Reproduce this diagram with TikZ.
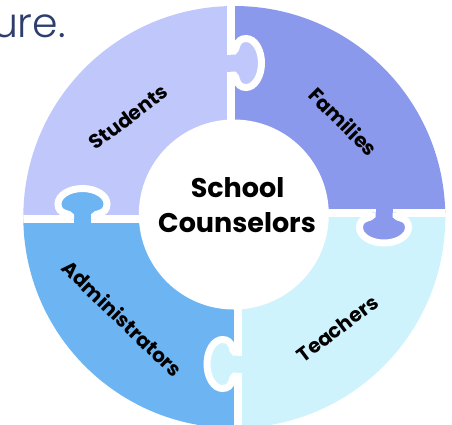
\documentclass[tikz,border=0pt]{standalone}
\usepackage{fontspec}
\setmainfont{Poppins}
\newfontfamily\lightfont{Poppins Light}
\definecolor{cstud}{HTML}{C0C8FB}
\definecolor{cfam}{HTML}{8A99EC}
\definecolor{cadm}{HTML}{6CB4F2}
\definecolor{cteach}{HTML}{CFF3FD}
\definecolor{cnavy}{HTML}{2D3E6E}
\newcommand{\puzzletab}[4]{%
  \begin{scope}[shift={#1}, x={#2}, y={#3}]
    \fill[#4] (-5,-8.5) rectangle (0.5,8.5);
    \path[fill=#4, draw=white, line width=7pt]
      (0,-12) -- (3,-12) .. controls (6,-12) and (4,-24.5) .. (15,-24.5)
      .. controls (23.6,-24.5) and (30.5,-13.5) .. (30.5,0)
      .. controls (30.5,13.5) and (23.6,24.5) .. (15,24.5)
      .. controls (4,24.5) and (6,12) .. (3,12) -- (0,12);
  \end{scope}}
\begin{document}
\begin{tikzpicture}[x=1pt,y=-1pt,
  gapline/.style={draw=white, line width=8pt},
  lbl/.style={font=\bfseries\fontsize{20}{22}\selectfont, inner sep=0pt, text=black},
  ctr/.style={font=\bfseries\fontsize{27}{30}\selectfont, inner sep=0pt, text=black}]
\clip (0,0) rectangle (452,424);
\fill[white] (0,0) rectangle (452,424);
\node[anchor=base east, inner sep=0pt, text=cnavy, font=\lightfont\fontsize{41}{45}\selectfont] (ure) at (66,37) {ure.};
\begin{scope}
  \clip (234.3,217) circle[radius=211];
  \fill[cstud] (0,0) rectangle (231,219);
  \fill[cfam] (231,0) rectangle (452,212.5);
  \fill[cteach] (237.5,212.5) rectangle (452,440);
  \fill[cadm] (0,219) rectangle (237.5,440);
  \draw[gapline] (231,0) -- (231,214.5);
  \draw[gapline] (237.5,214.5) -- (237.5,440);
  \draw[gapline] (0,219) -- (234,219);
  \draw[gapline] (234,212.5) -- (452,212.5);
  \puzzletab{(231,63)}{(1pt,0pt)}{(0pt,-1pt)}{cstud}
  \puzzletab{(82.5,219)}{(0pt,1pt)}{(1pt,0pt)}{cadm}
  \puzzletab{(384,212.5)}{(0pt,-1pt)}{(1pt,0pt)}{cfam}
  \puzzletab{(237.5,364)}{(-1pt,0pt)}{(0pt,1pt)}{cteach}
\end{scope}
\fill[white] (233.8,214.5) circle[radius=95];
\node[ctr, anchor=base] (school) at (237.5,197) {School};
\node[ctr, anchor=base] (couns) at (237,232) {Counselors};
\node[lbl, rotate=37] (stud) at (128.5,117) {Students};
\node[lbl, rotate=-45] (fam) at (343.5,121.5) {Families};
\node[lbl, rotate=-44] (adm) at (122.5,318.5) {Administrators};
\node[lbl, rotate=37] (teach) at (337.5,328.5) {Teachers};
\end{tikzpicture}
\end{document}
